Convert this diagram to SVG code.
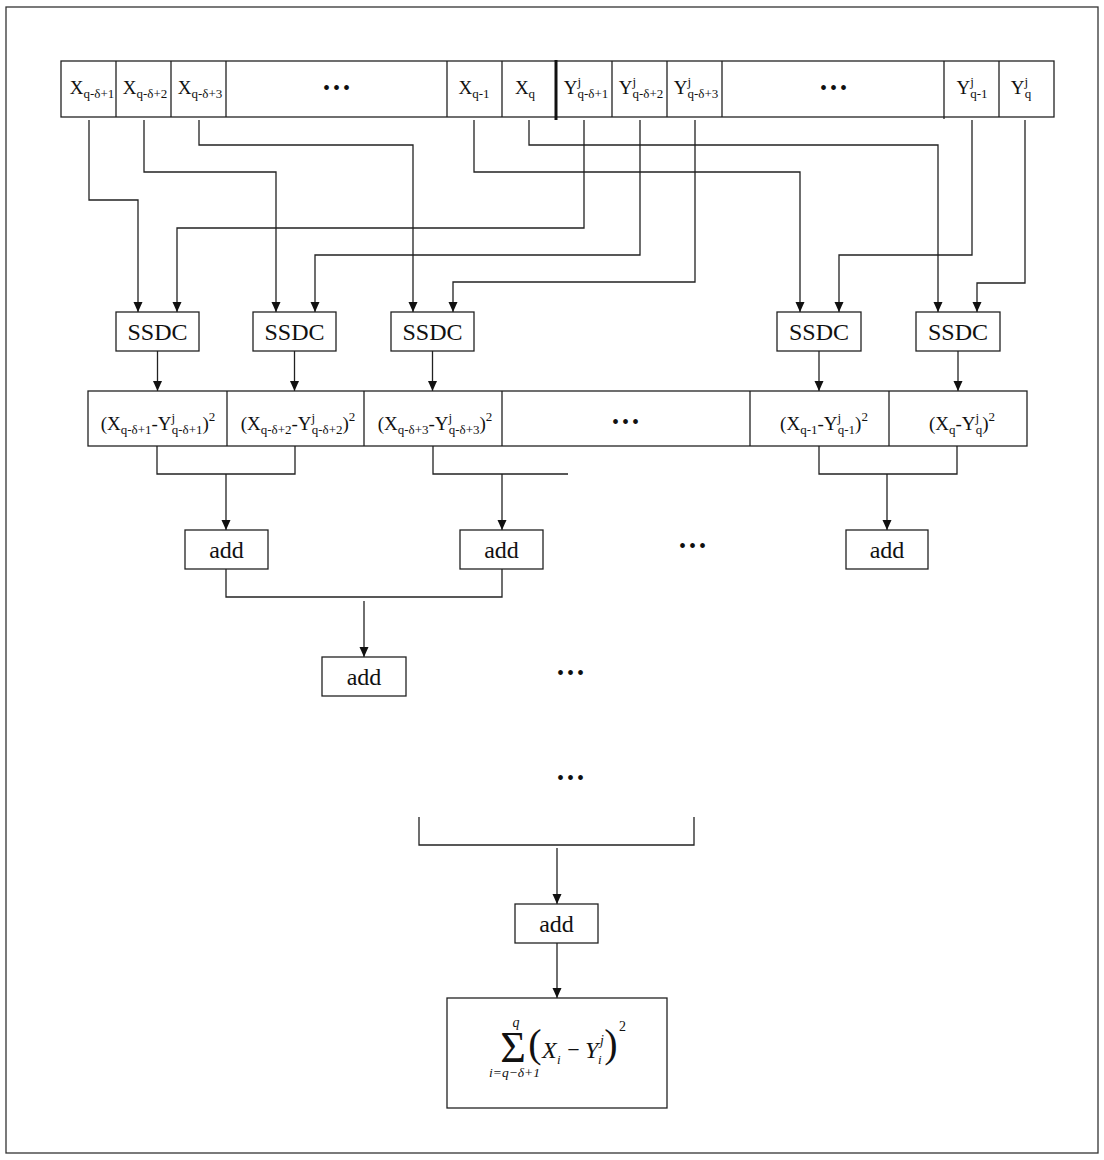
<svg xmlns="http://www.w3.org/2000/svg" width="1104" height="1160" viewBox="0 0 1104 1160">
<defs>
<style>
.box{fill:#fff;stroke:#222;stroke-width:1.3}
.ln{fill:none;stroke:#222;stroke-width:1.3}
.ar{marker-end:url(#ah)}
.t{font-family:"Liberation Serif","Times New Roman",serif;fill:#111}
.m{font-size:19px}
.s{font-size:13px}
.b{font-size:24px;text-anchor:middle}
.dots{font-family:"Liberation Serif","Times New Roman",serif;font-size:20px;letter-spacing:3px;text-anchor:middle;fill:#111}
.it{font-style:italic}
</style>
<marker id="ah" markerUnits="userSpaceOnUse" markerWidth="10" markerHeight="10" refX="10" refY="4.5" orient="auto">
<path d="M0,0 L10,4.5 L0,9 Z" fill="#111"/>
</marker>
</defs>
<rect x="6" y="7" width="1092" height="1146" fill="#fff" stroke="#333" stroke-width="1.3"/>

<g id="input-row">
<rect class="box" x="61" y="61" width="993" height="56"/>
<path class="ln" d="M116,61V117M171,61V117M226,61V117M447,61V117M502,61V117M612,61V117M667,61V117M722,61V117M944,61V119M999,61V117"/>
<line x1="556" y1="60" x2="556" y2="120" stroke="#111" stroke-width="3"/>
<text class="t m" x="92" y="94" text-anchor="middle">X<tspan class="s" dy="4">q-δ+1</tspan></text>
<text class="t m" x="145" y="94" text-anchor="middle">X<tspan class="s" dy="4">q-δ+2</tspan></text>
<text class="t m" x="200" y="94" text-anchor="middle">X<tspan class="s" dy="4">q-δ+3</tspan></text>
<text class="dots" x="338" y="95">•••</text>
<text class="t m" x="474" y="94" text-anchor="middle">X<tspan class="s" dy="4">q-1</tspan></text>
<text class="t m" x="525" y="94" text-anchor="middle">X<tspan class="s" dy="4">q</tspan></text>
<text class="t m" x="586" y="94" text-anchor="middle">Y<tspan class="s" dy="-8.5">j</tspan><tspan class="s" dx="-3.5" dy="12.5">q-δ+1</tspan></text>
<text class="t m" x="641" y="94" text-anchor="middle">Y<tspan class="s" dy="-8.5">j</tspan><tspan class="s" dx="-3.5" dy="12.5">q-δ+2</tspan></text>
<text class="t m" x="696" y="94" text-anchor="middle">Y<tspan class="s" dy="-8.5">j</tspan><tspan class="s" dx="-3.5" dy="12.5">q-δ+3</tspan></text>
<text class="dots" x="835" y="95">•••</text>
<text class="t m" x="972" y="94" text-anchor="middle">Y<tspan class="s" dy="-8.5">j</tspan><tspan class="s" dx="-3.5" dy="12.5">q-1</tspan></text>
<text class="t m" x="1021" y="94" text-anchor="middle">Y<tspan class="s" dy="-8.5">j</tspan><tspan class="s" dx="-3.5" dy="12.5">q</tspan></text>
</g>

<g id="connectors">
<path class="ln ar" d="M89,120V200H138V312"/>
<path class="ln ar" d="M144,120V172H276V312"/>
<path class="ln ar" d="M199,120V145H413V312"/>
<path class="ln ar" d="M584,120V228H177V312"/>
<path class="ln ar" d="M640,120V255H315V312"/>
<path class="ln ar" d="M695,120V282H453V312"/>
<path class="ln ar" d="M474,120V172H800V312"/>
<path class="ln ar" d="M529,120V145H938V312"/>
<path class="ln ar" d="M972,120V255H839V312"/>
<path class="ln ar" d="M1025,120V283H977V312"/>
<path class="ln ar" d="M157.5,351V391"/>
<path class="ln ar" d="M294.5,351V391"/>
<path class="ln ar" d="M432.5,351V391"/>
<path class="ln ar" d="M819,351V391"/>
<path class="ln ar" d="M958,351V391"/>
<path class="ln" d="M157,446V474H295V446"/>
<path class="ln ar" d="M226,474V530"/>
<path class="ln" d="M433,446V474H568"/>
<path class="ln ar" d="M502,474V530"/>
<path class="ln" d="M819,446V474H957V446"/>
<path class="ln ar" d="M887,474V530"/>
<path class="ln" d="M226,569V597H502V569"/>
<path class="ln ar" d="M364,601V657"/>
<path class="ln" d="M419,817V845H694V817"/>
<path class="ln ar" d="M557,848V904"/>
<path class="ln ar" d="M557,943V998"/>
</g>

<g id="ssdc1"><rect class="box" x="116" y="312" width="83" height="39"/><text class="t b" x="157.5" y="340">SSDC</text></g>
<g id="ssdc2"><rect class="box" x="253" y="312" width="83" height="39"/><text class="t b" x="294.5" y="340">SSDC</text></g>
<g id="ssdc3"><rect class="box" x="391" y="312" width="83" height="39"/><text class="t b" x="432.5" y="340">SSDC</text></g>
<g id="ssdc4"><rect class="box" x="777" y="312" width="84" height="39"/><text class="t b" x="819" y="340">SSDC</text></g>
<g id="ssdc5"><rect class="box" x="916" y="312" width="84" height="39"/><text class="t b" x="958" y="340">SSDC</text></g>

<g id="square-row">
<rect class="box" x="88" y="391" width="939" height="55"/>
<path class="ln" d="M227,391V446M364,391V446M502,391V446M750,391V446M889,391V446"/>
<text class="t m" x="158" y="430" text-anchor="middle">(X<tspan class="s" dy="4">q-δ+1</tspan><tspan dy="-4">-Y</tspan><tspan class="s" dy="-8.5">j</tspan><tspan class="s" dx="-3.5" dy="12.5">q-δ+1</tspan><tspan dy="-4">)</tspan><tspan class="s" dy="-9">2</tspan></text>
<text class="t m" x="298" y="430" text-anchor="middle">(X<tspan class="s" dy="4">q-δ+2</tspan><tspan dy="-4">-Y</tspan><tspan class="s" dy="-8.5">j</tspan><tspan class="s" dx="-3.5" dy="12.5">q-δ+2</tspan><tspan dy="-4">)</tspan><tspan class="s" dy="-9">2</tspan></text>
<text class="t m" x="435" y="430" text-anchor="middle">(X<tspan class="s" dy="4">q-δ+3</tspan><tspan dy="-4">-Y</tspan><tspan class="s" dy="-8.5">j</tspan><tspan class="s" dx="-3.5" dy="12.5">q-δ+3</tspan><tspan dy="-4">)</tspan><tspan class="s" dy="-9">2</tspan></text>
<text class="dots" x="627" y="429">•••</text>
<text class="t m" x="824" y="430" text-anchor="middle">(X<tspan class="s" dy="4">q-1</tspan><tspan dy="-4">-Y</tspan><tspan class="s" dy="-8.5">j</tspan><tspan class="s" dx="-3.5" dy="12.5">q-1</tspan><tspan dy="-4">)</tspan><tspan class="s" dy="-9">2</tspan></text>
<text class="t m" x="962" y="430" text-anchor="middle">(X<tspan class="s" dy="4">q</tspan><tspan dy="-4">-Y</tspan><tspan class="s" dy="-8.5">j</tspan><tspan class="s" dx="-3.5" dy="12.5">q</tspan><tspan dy="-4">)</tspan><tspan class="s" dy="-9">2</tspan></text>
</g>

<g id="add1"><rect class="box" x="185" y="530" width="83" height="39"/><text class="t b" x="226.5" y="558">add</text></g>
<g id="add2"><rect class="box" x="460" y="530" width="83" height="39"/><text class="t b" x="501.5" y="558">add</text></g>
<g id="add4"><rect class="box" x="846" y="530" width="82" height="39"/><text class="t b" x="887" y="558">add</text></g>
<g id="add3"><rect class="box" x="322" y="657" width="84" height="39"/><text class="t b" x="364" y="685">add</text></g>
<g id="add5"><rect class="box" x="515" y="904" width="83" height="39"/><text class="t b" x="556.5" y="932">add</text></g>

<g id="ellipses">
<text class="dots" x="694" y="553">•••</text>
<text class="dots" x="572" y="680">•••</text>
<text class="dots" x="572" y="785">•••</text>
</g>

<g id="result">
<rect class="box" x="447" y="998" width="220" height="110"/>
<text class="t" font-size="44" x="513" y="1062" text-anchor="middle">Σ</text>
<text class="t it" font-size="14" x="516" y="1027" text-anchor="middle">q</text>
<text class="t it" font-size="13.5" x="514.5" y="1077" text-anchor="middle">i=q−δ+1</text>
<text class="t" font-size="40" x="535" y="1057" text-anchor="middle">(</text>
<text class="t it" font-size="24" x="542" y="1058">X</text>
<text class="t it" font-size="13" x="557" y="1064">i</text>
<text class="t" font-size="22" x="573.5" y="1057" text-anchor="middle">−</text>
<text class="t it" font-size="24" x="585" y="1058">Y</text>
<text class="t it" font-size="14" x="600" y="1045">j</text>
<text class="t it" font-size="13" x="598" y="1064">i</text>
<text class="t" font-size="40" x="611" y="1057" text-anchor="middle">)</text>
<text class="t" font-size="14" x="619" y="1031">2</text>
</g>
</svg>
